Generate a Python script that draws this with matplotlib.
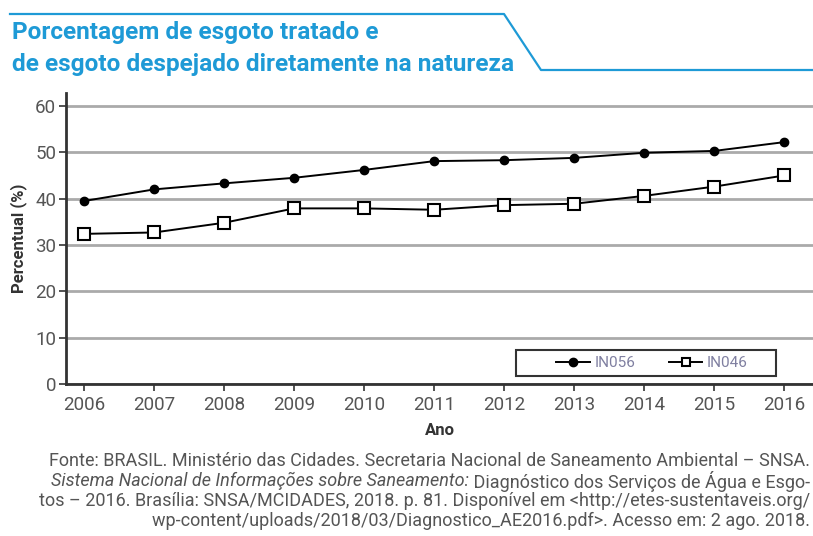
import matplotlib
matplotlib.use("Agg")
import matplotlib.pyplot as plt
from matplotlib.lines import Line2D
from matplotlib.patches import Rectangle

BLUE = "#1E9AD6"
TEXT_GRAY = "#555555"
GRID_GRAY = "#AAAAAA"
AXIS_DARK = "#333333"

years = [2006, 2007, 2008, 2009, 2010, 2011, 2012, 2013, 2014, 2015, 2016]
in056 = [39.5, 42.0, 43.3, 44.5, 46.2, 48.1, 48.3, 48.8, 49.9, 50.3, 52.2]
in046 = [32.4, 32.7, 34.8, 37.9, 37.9, 37.6, 38.6, 38.9, 40.6, 42.6, 45.0]
yticks = [0, 10, 20, 30, 40, 50, 60]

plt.rcParams["font.family"] = ["Roboto", "DejaVu Sans"]

fig = plt.figure(figsize=(8.13, 5.36), dpi=100)
ax = fig.add_axes([66 / 813, 152 / 536, 1 - 66 / 813, 291 / 536])

ax.plot(years, in056, color="black", linewidth=1.4, marker="o", markersize=6,
        markerfacecolor="black", markeredgecolor="black", label="IN056", zorder=3)
ax.plot(years, in046, color="black", linewidth=1.4, marker="s", markersize=9,
        markerfacecolor="white", markeredgecolor="black", markeredgewidth=1.5,
        label="IN046", zorder=3)

ax.set_xlim(2005.74, 2016.41)
ax.set_ylim(0, 62.8)
ax.set_xticks(years)
ax.set_yticks(yticks)
ax.grid(axis="y", color=GRID_GRAY, linewidth=2)
ax.set_axisbelow(True)
for s in ["top", "right"]:
    ax.spines[s].set_visible(False)
for s in ["left", "bottom"]:
    ax.spines[s].set_color(AXIS_DARK)
    ax.spines[s].set_linewidth(2)
ax.tick_params(axis="x", direction="out", length=5, width=1.2, color=AXIS_DARK,
               labelsize=13.5, labelcolor=TEXT_GRAY, pad=4)
ax.tick_params(axis="y", direction="out", length=5, width=1.2, color=AXIS_DARK,
               labelsize=13.5, labelcolor=TEXT_GRAY, pad=2)
ax.set_xlabel("Ano", fontsize=12, fontweight="bold", color="#333333", labelpad=6)
ax.set_ylabel("Percentual (%)", fontsize=12, fontweight="bold", color="#333333", labelpad=6)

# legend: box drawn separately, entries sit toward its right side
ax.add_patch(Rectangle((450 / 747, 8 / 291), 260 / 747, 26 / 291, transform=ax.transAxes,
                       facecolor="white", edgecolor=AXIS_DARK, linewidth=1.5, zorder=4))
leg = ax.legend(loc="center", bbox_to_anchor=(586 / 747, 21 / 291), ncol=2, frameon=False,
                fontsize=11, handlelength=2.2, columnspacing=2.2, borderpad=0,
                handletextpad=0.3, borderaxespad=0)
leg.set_zorder(5)
for t in leg.get_texts():
    t.set_color("#7F7FA0")
for h in leg.legend_handles:
    h.set_markersize(6)

# title and decorative border
fig.text(12 / 813, 1 - 33 / 536, "Porcentagem de esgoto tratado e", fontsize=17.6,
         fontweight="bold", color=BLUE, va="center", ha="left")
fig.text(12 / 813, 1 - 65 / 536, "de esgoto despejado diretamente na natureza", fontsize=17.6,
         fontweight="bold", color=BLUE, va="center", ha="left")
xs = [10 / 813, 504 / 813, 541 / 813, 1.0]
ys = [1 - 14 / 536, 1 - 14 / 536, 1 - 70 / 536, 1 - 70 / 536]
fig.add_artist(Line2D(xs, ys, color=BLUE, linewidth=1.6, transform=fig.transFigure))

# source note
RX = 810 / 813
fs = 13
fig.text(RX, 1 - 461 / 536, "Fonte: BRASIL. Ministério das Cidades. Secretaria Nacional de Saneamento Ambiental – SNSA.",
         ha="right", va="center", fontsize=fs, color=TEXT_GRAY)
normal2 = fig.text(RX, 1 - 481 / 536, " Diagnóstico dos Serviços de Água e Esgo-",
                   ha="right", va="center", fontsize=fs, color=TEXT_GRAY)
fig.text(RX, 1 - 501 / 536, "tos – 2016. Brasília: SNSA/MCIDADES, 2018. p. 81. Disponível em <http://etes-sustentaveis.org/",
         ha="right", va="center", fontsize=fs, color=TEXT_GRAY)
fig.text(RX, 1 - 521 / 536, "wp-content/uploads/2018/03/Diagnostico_AE2016.pdf>. Acesso em: 2 ago. 2018.",
         ha="right", va="center", fontsize=fs, color=TEXT_GRAY)

fig.canvas.draw()
bb = normal2.get_window_extent()
x_left = fig.transFigure.inverted().transform((bb.x0, bb.y0))[0]
fig.text(x_left, 1 - 481 / 536, "Sistema Nacional de Informações sobre Saneamento:",
         ha="right", va="center", fontsize=fs, color=TEXT_GRAY, style="italic")

fig.savefig("out.png", dpi=100, facecolor="white")
